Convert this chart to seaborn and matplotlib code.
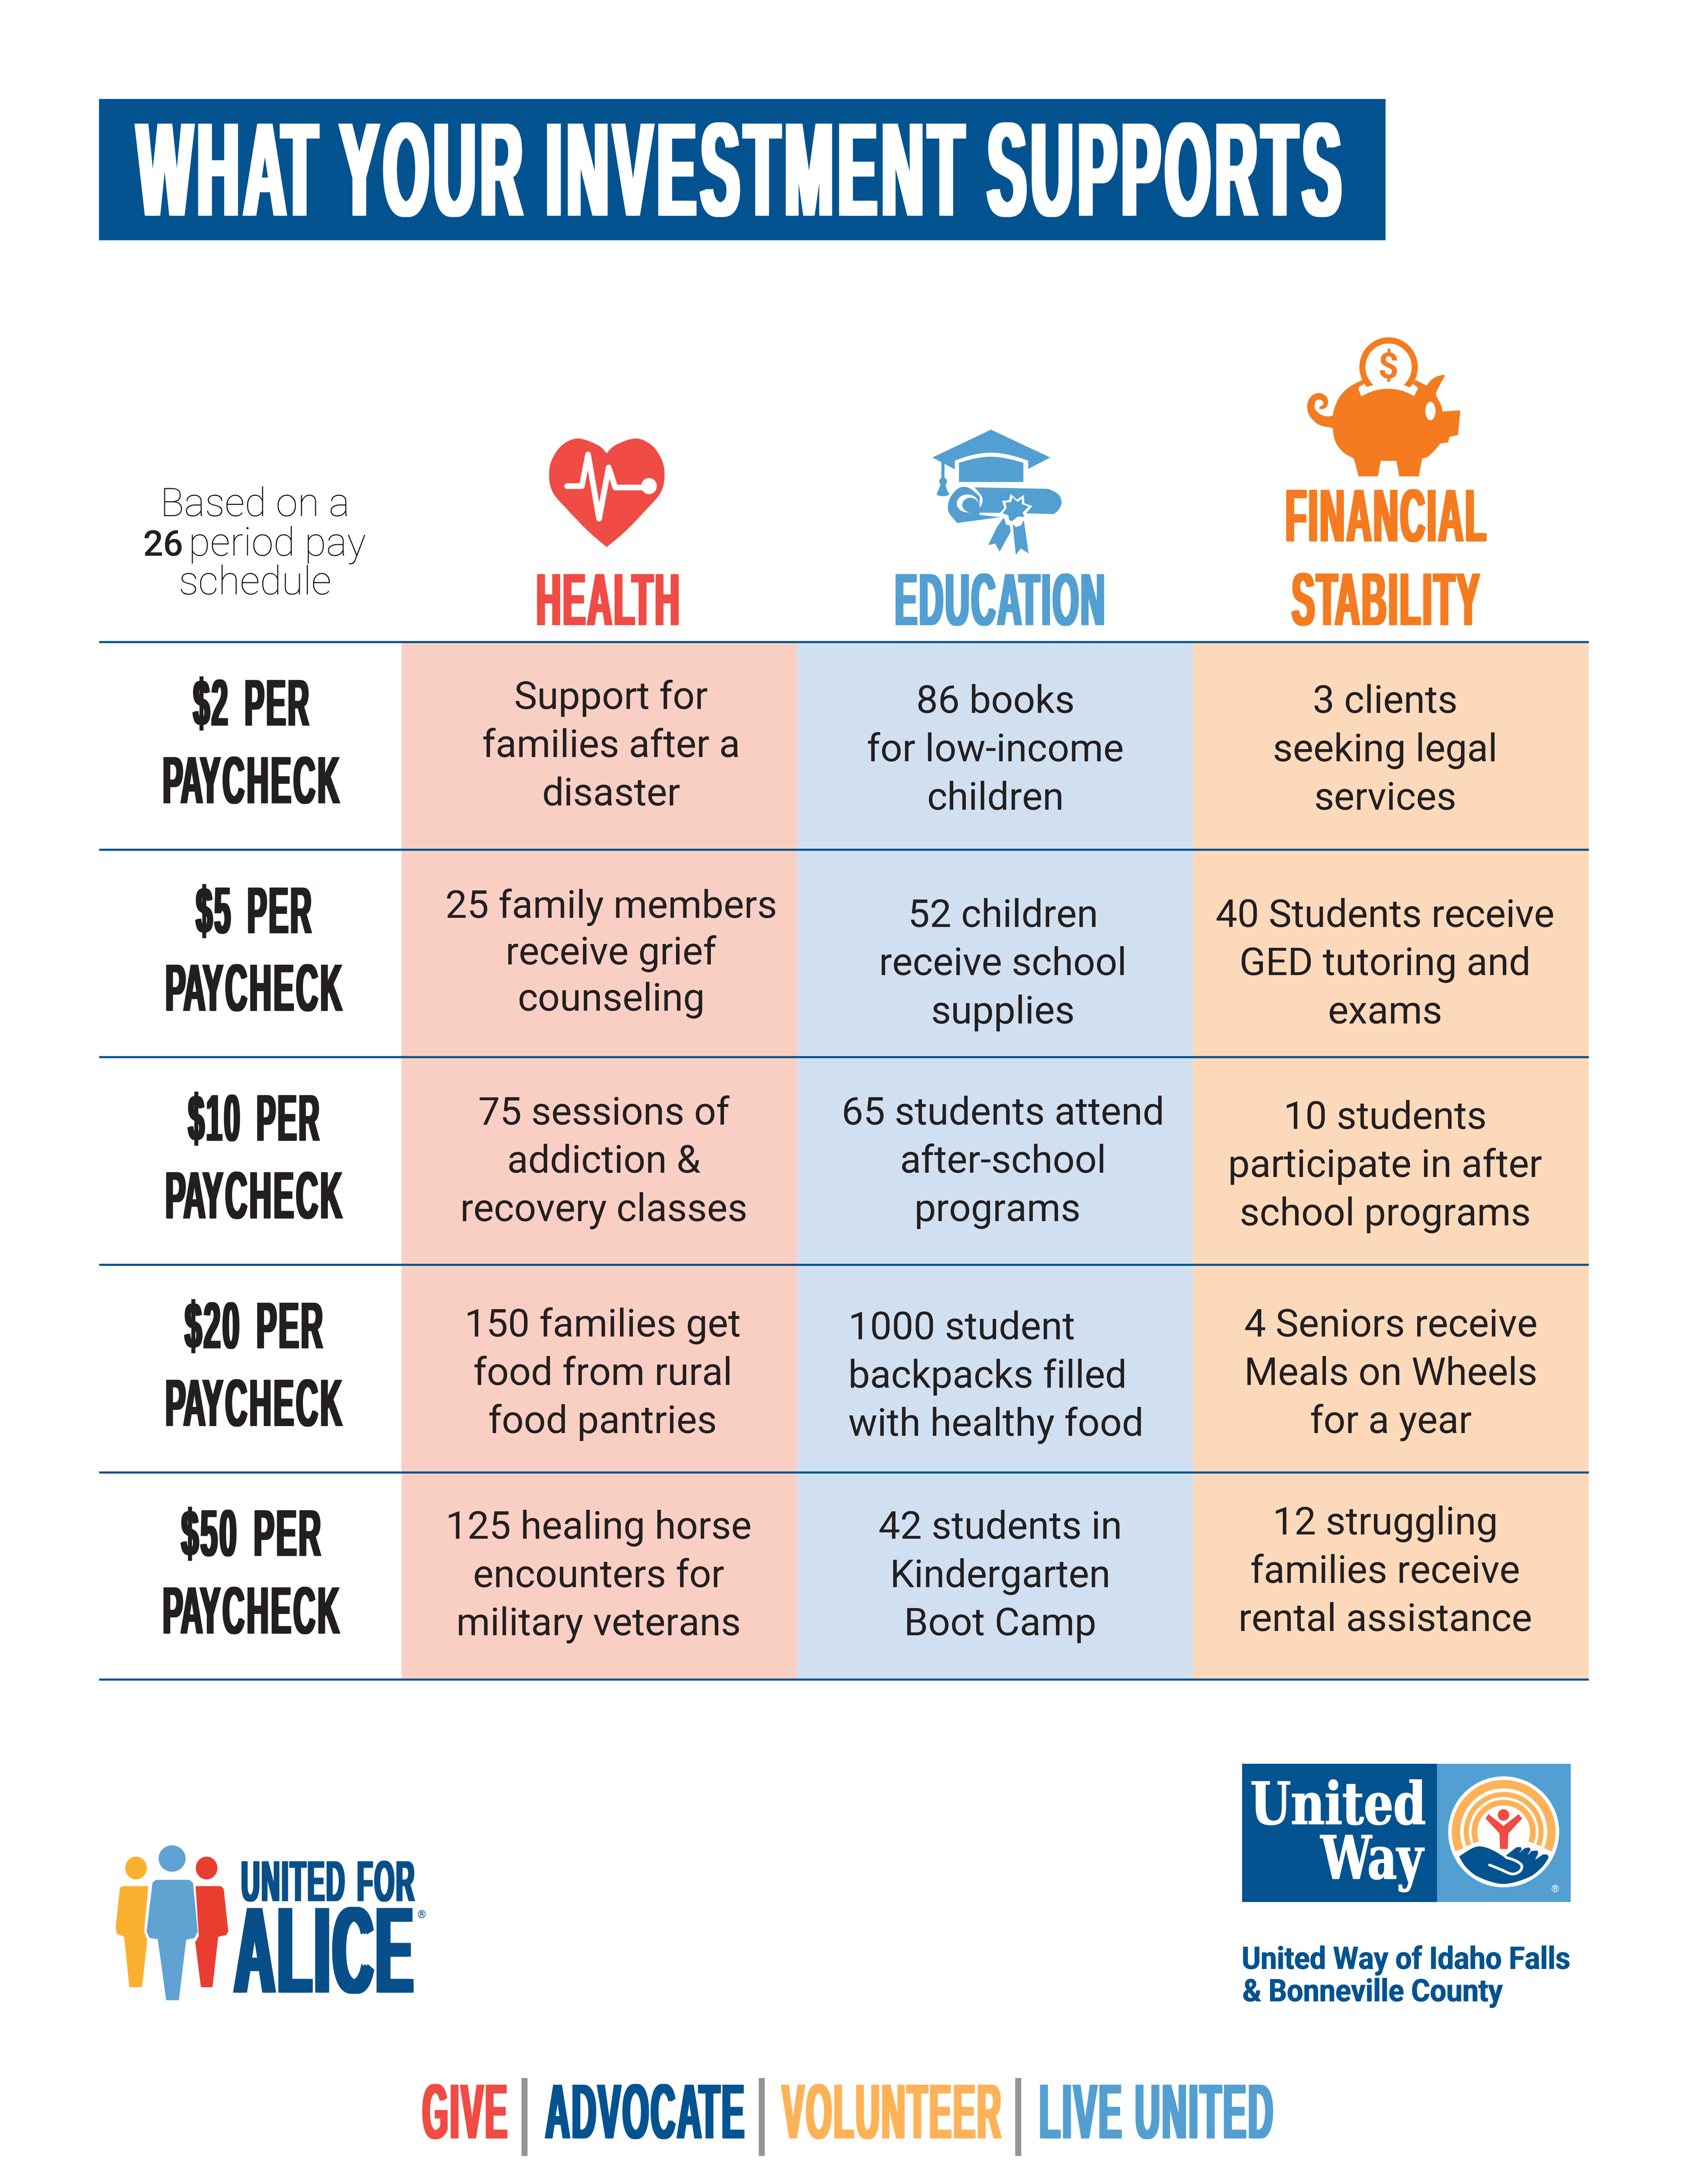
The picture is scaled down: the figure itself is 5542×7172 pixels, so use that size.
import numpy as np
import pandas as pd
import seaborn as sns
import matplotlib
matplotlib.use("Agg")
import matplotlib.pyplot as plt
from matplotlib.colors import ListedColormap
from matplotlib.font_manager import FontProperties
from matplotlib.patches import Polygon, Ellipse, Rectangle
from matplotlib.path import Path
from matplotlib.patheffects import AbstractPathEffect
from matplotlib.textpath import TextPath
from matplotlib.transforms import IdentityTransform

# ---------- content ----------
TITLE = "WHAT YOUR INVESTMENT SUPPORTS"
CATEGORIES = ["Health", "Education", "Financial Stability"]
TIERS = ["$2 PER", "$5 PER", "$10 PER", "$20 PER", "$50 PER"]
PAY_WORD = "PAYCHECK"
HEALTH = [["Support for", "families after a", "disaster"],
          ["25 family members", "receive grief", "counseling"],
          ["75 sessions of", "addiction &", "recovery classes"],
          ["150 families get", "food from rural", "food pantries"],
          ["125 healing horse", "encounters for", "military veterans"]]
EDUCATION = [["86 books", "for low-income", "children"],
             ["52 children", "receive school", "supplies"],
             ["65 students attend", "after-school", "programs"],
             ["1000 student", "backpacks filled", "with healthy food"],
             ["42 students in", "Kindergarten", "Boot Camp"]]
FINANCIAL = [["3 clients", "seeking legal", "services"],
             ["40 Students receive", "GED tutoring and", "exams"],
             ["10 students", "participate in after", "school programs"],
             ["4 Seniors receive", "Meals on Wheels", "for a year"],
             ["12 struggling", "families receive", "rental assistance"]]
FOOTER = ["GIVE", "ADVOCATE", "VOLUNTEER", "LIVE UNITED"]

# ---------- palette ----------
NAVY, RED, BLUE, ORANGE, YELLOW = "#045391", "#F04B44", "#539FD2", "#F47B20", "#FDB258"
INK = "#231F20"
CELL_COLORS = ["#FACFC3", "#D0E0F1", "#FDD9BC"]

# ---------- page layout (reference pixels) ----------
W, H = 5627, 7282
DPI = 98.5          # keeps the output just below 40 megapixels
PX = 0.72           # points per reference pixel
DS = DPI / 100      # device pixels per reference pixel
ROW_EDGES = [2141, 2833, 3525, 4217, 4909, 5600]
TABLE_X = [330, 1338, 5295]
LINE_GAP = 161

HEALTH_X = [2037, 2037, 2013, 2009, 1995]
HEALTH_Y = [2363, 3060, 3749, 4456, 5130]
EDU_X = [3318, 3343, 3343, 2827, 3334]
EDU_Y = [2377, 3090, 3749, 4465, 5130]
FIN_X = [4617, 4617, 4617, 4636, 4617]
FIN_Y = [2377, 3090, 3763, 4456, 5116]
TIER_X = [837, 846, 846, 846, 837]
TIER_W = [391, 390, 442, 465, 470]
TIER_BASE = [2420, 3112, 3804, 4496, 5188]
PAY_BASE = [2679, 3371, 4063, 4755, 5447]
LINE_SHIFT = {("edu", 2, 2): -18}

sns.set_theme(style="white")
NARROW = "Liberation Sans"
plt.rcParams["font.family"] = ["Roboto", "DejaVu Sans"]

fig = plt.figure(figsize=(W / 100, H / 100), dpi=DPI, facecolor="white")

# ---------- the table body is a seaborn heatmap ----------
tax = fig.add_axes([TABLE_X[1] / W, 1 - ROW_EDGES[-1] / H,
                    (TABLE_X[2] - TABLE_X[1]) / W, (ROW_EDGES[-1] - ROW_EDGES[0]) / H])
grid = pd.DataFrame({c: [i] * len(TIERS) for i, c in enumerate(CATEGORIES)}, index=TIERS)
sns.heatmap(grid, cmap=ListedColormap(CELL_COLORS), vmin=0, vmax=2, cbar=False,
            xticklabels=False, yticklabels=False, ax=tax)
tax.set_xlabel(""); tax.set_ylabel("")

ax = fig.add_axes([0, 0, 1, 1], zorder=2)
ax.set_xlim(0, W); ax.set_ylim(H, 0); ax.axis("off"); ax.patch.set_alpha(0)


def glyph_groups(verts, codes):
    """Contours grouped into glyphs by their horizontal overlap."""
    starts = np.flatnonzero(codes == Path.MOVETO)
    ends = np.append(starts[1:], len(codes))
    parts = []
    for s, e in zip(starts, ends):
        keep = codes[s:e] != Path.CLOSEPOLY
        xs = verts[s:e, 0][keep]
        parts.append((xs.min(), xs.max(), s, e))
    parts.sort()
    groups = []
    for x0, x1, s, e in parts:
        if groups and x0 < groups[-1][1]:
            groups[-1][1] = max(groups[-1][1], x1)
            groups[-1][2].append((s, e))
        else:
            groups.append([x0, x1, [(s, e)]])
    return groups


class Condensed(AbstractPathEffect):
    """Stretch glyphs about the baseline, thicken the stems, open the letter spacing."""
    def __init__(self, sy, y0, d, track, word, em):
        super().__init__()
        self.sy, self.y0, self.d, self.track, self.word, self.em = sy, y0, d, track, word, em

    def draw_path(self, renderer, gc, tpath, affine, rgbFace=None):
        v = affine.transform(tpath.vertices)
        codes = tpath.codes
        v[:, 1] = self.y0 + (v[:, 1] - self.y0) * self.sy
        groups = glyph_groups(v, codes)
        shift, shifts = 0.0, []
        for i, g in enumerate(groups):
            if i:
                shift += self.track
                if g[0] - groups[i - 1][1] > 0.2 * self.em:
                    shift += self.word
            shifts.append(shift)
        out = v.copy()
        for g, sh in zip(groups, shifts):
            for s, e in g[2]:
                out[s:e, 0] += sh - shift / 2
        for dx in (-self.d, 0, self.d):
            p = out.copy()
            p[:, 0] += dx
            renderer.draw_path(gc, Path(p, codes), IdentityTransform(), rgbFace)


def cond(x0, x1, base, cap, s, color, d=3, track=0, word=0, family=NARROW, weight="bold"):
    fp = FontProperties(family=family, weight=weight, size=100)
    tp = TextPath((0, 0), s, prop=fp)
    nat = tp.get_extents().width
    n = len(glyph_groups(np.array(tp.vertices), np.array(tp.codes)))
    em = (x1 - x0 - 2 * d - (n - 1) * track - s.count(" ") * word) / nat * 100
    cap_nat = TextPath((0, 0), "H", prop=fp).get_extents().height / 100 * em
    return ax.text((x0 + x1) / 2, base, s, ha="center", va="baseline", color=color,
                   family=family, weight=weight, fontsize=em * PX, zorder=6,
                   path_effects=[Condensed(cap / cap_nat, (H - base) * DS, d * DS,
                                           track * DS, word * DS, em * DS)])


def smooth(pts, n=10):
    p = np.array(pts, float)
    p = np.vstack([p[0], p, p[-1]])
    out = []
    for i in range(1, len(p) - 2):
        for t in np.linspace(0, 1, n, endpoint=False):
            out.append(0.5 * ((2 * p[i]) + (p[i + 1] - p[i - 1]) * t
                              + (2 * p[i - 1] - 5 * p[i] + 4 * p[i + 1] - p[i + 2]) * t ** 2
                              + (3 * p[i] - p[i - 1] - 3 * p[i + 1] + p[i + 2]) * t ** 3))
    out.append(p[-2])
    return np.array(out)


def mapper(ox, oy, sx, sy):
    return lambda pts: np.asarray(pts, float) * [sx, sy] + [ox, oy]


def fill(pts, color, z=3):
    ax.add_patch(Polygon(pts, closed=True, fc=color, ec="none", zorder=z))


def oval(xy, rx, ry, color, z=3, angle=0):
    ax.add_patch(Ellipse(xy, 2 * rx, 2 * ry, angle=angle, fc=color, ec="none", zorder=z))


# ---------- banner ----------
ax.add_patch(Rectangle((330, 331), 4288, 471, fc=NAVY, ec="none", zorder=1))
cond(452, 4476, 720, 307, TITLE, "white", d=9, track=15, word=8)

# ---------- rules ----------
ax.hlines(ROW_EDGES, TABLE_X[0], TABLE_X[2], color=NAVY, lw=7 * PX, zorder=4)

# ---------- pay schedule note ----------
ax.text(850, 1721, "Based on a", ha="center", va="baseline", color="#111111", fontsize=132 * PX, weight="light")
ax.text(477, 1853, "26", ha="left", va="baseline", color=INK, fontsize=118 * PX, weight="medium")
ax.text(1220, 1853, "period pay", ha="right", va="baseline", color="#111111", fontsize=132 * PX, weight="light")
ax.text(850, 1982, "schedule", ha="center", va="baseline", color="#111111", fontsize=132 * PX, weight="light")

# ---------- column headers ----------
cond(1790, 2262, 2085, 170, "HEALTH", RED, d=5, track=6)
cond(2985, 3680, 2085, 170, "EDUCATION", BLUE, d=5, track=6)
cond(4285, 4953, 1806, 172, "FINANCIAL", ORANGE, d=5, track=6)
cond(4303, 4934, 2085, 172, "STABILITY", ORANGE, d=5, track=6)

# ---------- body ----------
for r, tier in enumerate(TIERS):
    w = TIER_W[r]
    cond(TIER_X[r] - w / 2, TIER_X[r] + w / 2, TIER_BASE[r], 152, tier, INK, d=4, track=6, word=22)
    cond(TIER_X[r] - 295, TIER_X[r] + 295, PAY_BASE[r], 154, PAY_WORD, INK, d=4, track=7)
    for name, col, xs, ys in (("hea", HEALTH, HEALTH_X, HEALTH_Y), ("edu", EDUCATION, EDU_X, EDU_Y),
                              ("fin", FINANCIAL, FIN_X, FIN_Y)):
        ha = "left" if col is EDUCATION and r == 3 else "center"
        gap = 155 if col is HEALTH and r == 1 else LINE_GAP
        for k, line in enumerate(col[r]):
            ax.text(xs[r] + LINE_SHIFT.get((name, r, k), 0), ys[r] + k * gap, line, ha=ha, va="baseline",
                    color=INK, fontsize=129 * PX, zorder=6)

# ---------- heart icon ----------
z3 = mapper(1750, 1100, 1800 / 1568, 800 / 1568)
heart_r = smooth([(237, 808), (262, 755), (320, 711), (365, 750), (395, 840), (405, 940),
                  (395, 1060), (350, 1180), (290, 1320), (237, 1420)])
heart_l = smooth([(237, 1420), (185, 1320), (125, 1180), (80, 1060), (70, 940), (80, 840),
                  (110, 750), (155, 711), (212, 755), (237, 808)])
fill(z3(np.vstack([heart_r, heart_l])), RED)
ecg = z3([(122, 1022), (165, 1022), (183, 815), (215, 1235), (243, 900), (262, 1031), (345, 1031)])
ax.plot(ecg[:, 0], ecg[:, 1], color="white", lw=19 * PX, solid_joinstyle="round", solid_capstyle="round", zorder=4)
oval(z3([(360, 1022)])[0], 26, 27, "white", z=4)

# ---------- graduation icon ----------
top_arc = smooth([(1248, 855), (1300, 818), (1353, 803), (1406, 818), (1461, 855)])
fill(z3(np.vstack([[(1353, 653), (1525, 835), (1461, 910)], top_arc[::-1], [(1248, 912), (1183, 835)]])), BLUE)
fill(z3(np.vstack([smooth([(1260, 870), (1305, 842), (1353, 830), (1400, 842), (1447, 870)]),
                   [(1447, 995), (1260, 995)]])), BLUE)
fill(z3([(1209, 862), (1218, 870), (1218, 975), (1209, 975)]), BLUE)
oval(z3([(1214, 992)])[0], 13, 13, BLUE)
fill(z3(smooth([(1207, 1010), (1200, 1050), (1196, 1078), (1213, 1088), (1231, 1078), (1226, 1050), (1220, 1010)])), BLUE)
fill(z3(np.vstack([[(1305, 1030), (1520, 1040)],
                   smooth([(1520, 1040), (1548, 1075), (1558, 1125), (1550, 1175), (1535, 1205)]),
                   [(1460, 1200), (1312, 1195)],
                   smooth([(1312, 1195), (1328, 1130), (1325, 1085), (1305, 1030)])])), BLUE)
fill(z3(np.vstack([smooth([(1255, 1263), (1232, 1200), (1228, 1150), (1238, 1085), (1262, 1032), (1290, 1035), (1320, 1090)]),
                   [(1320, 1210), (1380, 1225)]])), BLUE)
oval(z3([(1285, 1135)])[0], 36, 30, "white", z=3.5)
oval(z3([(1293, 1145)])[0], 27, 24, BLUE, z=3.6)
star = z3([(1385, 1118), (1405, 1115), (1410, 1072), (1428, 1110), (1448, 1080), (1450, 1135),
           (1473, 1152), (1455, 1200), (1460, 1232), (1432, 1232), (1420, 1265), (1400, 1270),
           (1395, 1222), (1375, 1205), (1392, 1165)])
fill(star, "white", z=3.7)
star2 = z3([(1395, 1130), (1412, 1125), (1415, 1095), (1430, 1125), (1443, 1105), (1443, 1140),
            (1462, 1155), (1445, 1195), (1450, 1222), (1430, 1222), (1415, 1250), (1406, 1245),
            (1403, 1212), (1387, 1200), (1398, 1165)])
fill(star2, BLUE, z=3.8)
fill(z3([(1390, 1228), (1397, 1275), (1408, 1280), (1410, 1320), (1378, 1450), (1365, 1397),
         (1345, 1408), (1370, 1290)]), BLUE)
fill(z3([(1416, 1270), (1425, 1290), (1440, 1280), (1448, 1245), (1452, 1300), (1462, 1462),
         (1440, 1430), (1425, 1470)]), BLUE)

# ---------- piggy bank icon ----------
z4 = mapper(4250, 1080, 720 / 1568, 560 / 1568)
pig = np.vstack([
    smooth([(633, 525), (540, 590), (470, 680), (430, 790), (420, 855)]),
    smooth([(420, 855), (385, 865), (335, 850), (295, 805), (287, 765), (297, 720), (320, 707), (345, 722),
            (350, 750), (335, 768), (325, 770)]),
    smooth([(320, 792), (345, 797), (375, 775), (385, 735), (375, 685), (345, 655), (315, 647), (275, 665),
            (245, 710), (233, 770), (245, 845), (280, 905), (330, 950), (418, 972)]),
    smooth([(418, 972), (430, 1070), (460, 1150), (510, 1215), (560, 1250), (578, 1285), (605, 1425)]),
    [(747, 1425), (767, 1280), (880, 1280), (902, 1425), (1043, 1425), (1068, 1258)],
    smooth([(1068, 1258), (1110, 1240), (1160, 1180), (1200, 1118)]),
    [(1255, 1108), (1267, 1056), (1328, 1040), (1345, 808), (1217, 820)],
    smooth([(1217, 820), (1205, 760), (1170, 670), (1175, 625), (1232, 487)]),
    smooth([(1232, 487), (1222, 478), (1170, 495), (1130, 530), (1102, 578)]),
    [(1018, 525), (633, 525)]])
fill(z4(pig), ORANGE)
slot = np.vstack([[(633, 525), (648, 560), (610, 590), (605, 610), (625, 678)],
                  smooth([(625, 678), (720, 625), (820, 608), (920, 625), (1010, 675)]),
                  [(1037, 605), (1030, 590), (1000, 563), (1018, 525)]])
fill(z4(slot), "white", z=3.2)
cx4, cy4 = 824, 405
a_out = np.linspace(-np.pi - np.arcsin(120 / 278), np.arcsin(120 / 278), 160)
a_in = np.linspace(-np.pi - np.arcsin(167 / 220), np.arcsin(167 / 220), 160)
outer = np.c_[cx4 + 212 * np.cos(a_out), cy4 + 278 * np.sin(a_out)]
inner = np.c_[cx4 + 168 * np.cos(a_in), cy4 + 220 * np.sin(a_in)]
fill(z4(np.vstack([outer, [(1000, 563), (978, 595), (937, 572)], inner[::-1], [(665, 590), (648, 560)]])), ORANGE, z=3.4)
oval(z4([(1128, 815)])[0], 17, 31, "white", z=3.4)
ax.text(*z4([(822, 506)])[0], "$", ha="center", va="baseline", color=ORANGE, weight="bold",
        fontsize=118 * PX, zorder=4)

# ---------- United for ALICE logo ----------
z5 = mapper(340, 6100, 1100 / 1568, 620 / 1568)
AY, AB, AR, AN = "#FBB12F", "#60A2D2", "#E93D30", "#084F8A"
oval(z5([(162, 325)])[0], 36, 38, AY)
fill(z5([(220, 478), (100, 478), (85, 490), (65, 830), (70, 880), (105, 905), (130, 1330), (190, 1330),
         (215, 930), (200, 860)]), AY)
oval(z5([(497, 325)])[0], 36, 38, AR)
fill(z5([(445, 478), (565, 478), (578, 500), (600, 860), (590, 890), (552, 905), (525, 1330), (470, 1330),
         (443, 950), (460, 900)]), AR)
oval(z5([(333, 245)])[0], 45, 44, AB, z=3.2)
fill(z5([(255, 425), (415, 425), (432, 450), (455, 860), (440, 915), (400, 930), (365, 1440), (305, 1440),
         (265, 925), (225, 915), (212, 860), (240, 450)]), AB, z=3.2)
cond(803, 1382, 6339, 133, "UNITED FOR", AN, d=4, track=5, word=12)
cond(778, 1380, 6644, 282, "ALICE", AN, d=10, track=10)
ax.text(1405, 6385, "®", ha="center", va="center", color=AN, fontsize=36 * PX, zorder=6)

# ---------- United Way logo ----------
ax.add_patch(Rectangle((4140, 5881), 650, 461, fc=NAVY, ec="none", zorder=2))
ax.add_patch(Rectangle((4790, 5881), 446, 461, fc=BLUE, ec="none", zorder=2))
cond(4170, 4750, 6083, 144, "United", "white", d=2, family="DejaVu Serif")
cond(4398, 4748, 6265, 147, "Way", "white", d=2, family="DejaVu Serif")
z6 = mapper(4103, 5850, 1160 / 1568, 1 / 3)
ECX, ECY = 5012, 6108
oval((ECX, ECY), 185, 185, "white", z=3)
for r_out, r_in, cut in ((173, 145, 22), (133, 116, 21), (107, 88, 21)):
    a = np.radians(np.linspace(180 - cut, 360 + cut, 120))
    arc = np.vstack([np.c_[ECX + r_out * np.cos(a), ECY + r_out * np.sin(a)],
                     np.c_[ECX + r_in * np.cos(a), ECY + r_in * np.sin(a)][::-1]])
    fill(arc, YELLOW, z=3.2)
hand = np.vstack([smooth([(1028, 1020), (1095, 930), (1140, 925), (1190, 970), (1240, 1040)]),
                  [(1240, 1010), (1285, 930), (1305, 925), (1310, 950), (1298, 985), (1325, 935), (1345, 930),
                   (1350, 955), (1335, 1010), (1355, 965), (1380, 960), (1385, 985), (1370, 1055), (1405, 1000),
                   (1425, 1000), (1432, 1030)],
                  smooth([(1432, 1030), (1400, 1130), (1340, 1230), (1228, 1295), (1120, 1230), (1060, 1130), (1028, 1020)])])
fill(z6(hand), NAVY, z=3.4)
thumb = z6(smooth([(1165, 1105), (1215, 1150), (1265, 1195), (1300, 1170), (1310, 1110), (1280, 1060), (1240, 1030)]))
ax.plot(thumb[:, 0], thumb[:, 1], color="white", lw=9 * PX, solid_capstyle="round", zorder=3.6)
oval(z6([(1228, 605)])[0], 19, 19, RED, z=3.6)
fill(z6([(1160, 597), (1228, 715), (1296, 597), (1312, 640), (1250, 790), (1247, 945), (1212, 945), (1210, 790),
         (1147, 640)]), RED, z=3.6)
ax.text(*z6([(1460, 1350)])[0], "®", ha="center", va="center", color="white", fontsize=34 * PX, zorder=6)
cond(4142, 5230, 6565, 74, "United Way of Idaho Falls", NAVY, d=1, family="Roboto", weight="bold")
cond(4142, 5008, 6673, 74, "& Bonneville County", NAVY, d=1, family="Roboto", weight="bold")

# ---------- footer ----------
cond(1407, 1691, 7130, 179, FOOTER[0], RED, d=5, track=6)
cond(1816, 2482, 7130, 179, FOOTER[1], NAVY, d=5, track=6)
cond(2603, 3340, 7130, 179, FOOTER[2], YELLOW, d=5, track=6)
cond(3465, 4242, 7130, 179, FOOTER[3], BLUE, d=5, track=6, word=6)
ax.vlines([1748, 2539, 3394], 6929, 7189, color="#939598", lw=20 * PX, zorder=3)

fig.savefig("out.png", dpi=DPI, facecolor="white")
